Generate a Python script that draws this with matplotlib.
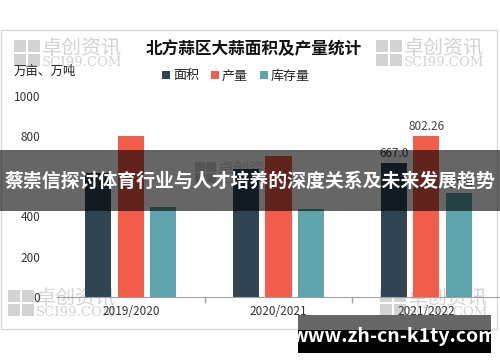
import matplotlib
matplotlib.use("Agg")
import matplotlib.pyplot as plt
from matplotlib.patches import Rectangle
import numpy as np

plt.rcParams['font.family'] = ['Noto Sans CJK SC', 'DejaVu Sans']

seasons = ['2019/2020', '2020/2021', '2021/2022']
area = [615, 634, 667.0]
output = [800, 700, 802.26]
stock = [445, 435, 515]
series_names = ['面积', '产量', '库存量']
colors = ['#2f4554', '#f25c4a', '#5fa3ab']
y_ticks = [0, 200, 400, 800, 1000]

W, H = 500, 362


def px(x, y):
    return x / W, 1 - y / H


fig = plt.figure(figsize=(5, 3.62), dpi=100)
fig.patch.set_facecolor('white')

# outer chart frame
x0, y0 = px(1, 329)
x1, y1 = px(497, 30)
fig.add_artist(Rectangle((x0, y0), x1 - x0, y1 - y0, transform=fig.transFigure,
                         fill=False, edgecolor='#d9d9d9', lw=1, zorder=0.2))


def watermark(x, y, scale=1.0):
    c = '#d3d3d3'
    s = 12 * scale
    g = 2 * scale
    for i in range(2):
        for j in range(2):
            bx, by = px(x + i * (s + g), y + (j + 1) * s + j * g)
            fig.add_artist(Rectangle((bx, by), s / W, s / H, transform=fig.transFigure,
                                     color=c, lw=0, zorder=0.5))
    fig.text(*px(x + 28 * scale, y + 9 * scale), '卓创资讯', fontsize=14.4 * scale,
             color=c, va='center', ha='left', zorder=0.5)
    fig.text(*px(x + 28 * scale, y + 22 * scale), 'SCI99.COM', fontsize=9.5 * scale,
             family='DejaVu Serif', color=c, va='center', ha='left', zorder=0.5)


watermark(14, 40)
watermark(376, 40)
watermark(8, 290)
watermark(380, 290)
watermark(195, 162, 0.8)

ax = fig.add_axes([57 / W, (H - 297) / H, (500 - 57) / W, (297 - 95.7) / H])
ax.set_zorder(1)
ax.patch.set_alpha(0)

x = np.arange(len(seasons))
pitch = 0.22
width = 0.177
for k, (vals, name, col) in enumerate(zip([area, output, stock], series_names, colors)):
    ax.bar(x + (k - 1) * pitch, vals, width, color=col, label=name, zorder=2)

ax.text(x[2] - pitch, area[2] + 16, '667.0', ha='center', va='bottom', fontsize=8.5, color='#404040')
ax.text(x[2], output[2] + 14, '802.26', ha='center', va='bottom', fontsize=8.5, color='#404040')
ax.text(x[2] + pitch, stock[2] + 14, '515.0', ha='center', va='bottom', fontsize=8.5, color='#404040')

ax.set_xlim(-0.5, 2.5)
ax.set_ylim(0, 1000)
ax.set_yticks(y_ticks)
ax.set_yticklabels([str(v) for v in y_ticks])
ax.tick_params(axis='y', length=0, pad=12, labelsize=8.5, labelcolor='#333333')
ax.set_xticks(x)
ax.set_xticklabels(seasons)
ax.tick_params(axis='x', length=0, pad=6, labelsize=8.5, labelcolor='#333333')
ax.set_xticks([0.5, 1.5], minor=True)
ax.tick_params(axis='x', which='minor', length=4, color='#a0a0a0', width=1)
for side in ['top', 'right', 'left']:
    ax.spines[side].set_visible(False)
ax.spines['bottom'].set_color('#a0a0a0')

fig.text(*px(254, 49), '北方蒜区大蒜面积及产量统计', fontsize=12, fontweight='bold',
         ha='center', va='center', color='#111111')
fig.text(*px(14, 71), '万亩、万吨', fontsize=9, ha='left', va='center', color='#222222')

handles, labels = ax.get_legend_handles_labels()
fig.legend(handles, labels, loc='center', bbox_to_anchor=px(236, 76), ncol=3,
           frameon=False, fontsize=9.4, handlelength=0.6, handleheight=0.6,
           handletextpad=0.25, columnspacing=0.9, labelcolor='#222222')

# overlay banner across the middle
bx, by = px(0, 211)
fig.add_artist(Rectangle((bx, by), 1, 61 / H, transform=fig.transFigure,
                         color='black', alpha=0.6, lw=0, zorder=10))
fig.text(*px(250, 181), '蔡崇信探讨体育行业与人才培养的深度关系及未来发展趋势',
         fontsize=13.6, fontweight='bold', color='white', ha='center', va='center', zorder=11)

# url box at the bottom right
gx, gy = px(298, 330)
fig.add_artist(Rectangle((gx, gy), 193 / W, 15 / H, transform=fig.transFigure,
                         color='#666666', lw=0, zorder=10))
kx, ky = px(298, 353)
fig.add_artist(Rectangle((kx, ky), 193 / W, 23 / H, transform=fig.transFigure,
                         color='black', lw=0, zorder=10))
fig.text(*px(394, 337), 'www.zh-cn-k1ty.com', fontsize=14, fontweight='bold',
         color='white', ha='center', va='center', zorder=11)

fig.savefig('out.png', dpi=100)
